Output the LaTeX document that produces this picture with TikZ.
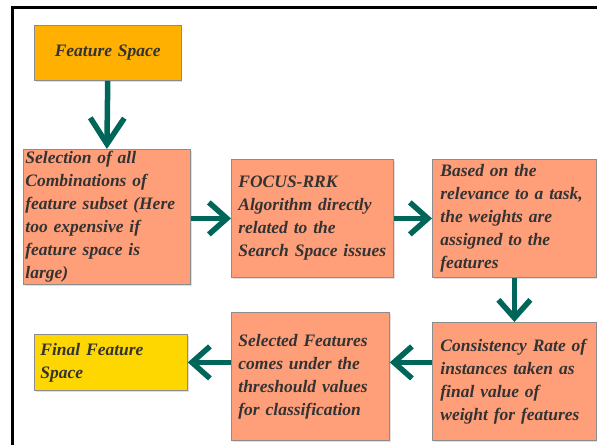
\documentclass[tikz,border=0pt]{standalone}
\usepackage{fontspec}
\setmainfont{Liberation Serif}[BoldItalicFont={Liberation Serif Bold Italic}, BoldFont={Liberation Serif Bold}, ItalicFont={Liberation Serif Italic}]
\usetikzlibrary{arrows.meta,shadows}
\definecolor{salmonbox}{HTML}{FF9F7A}
\definecolor{orangebox}{HTML}{FFB000}
\definecolor{yellowbox}{HTML}{FFD700}
\definecolor{boxline}{HTML}{8C8C8C}
\definecolor{txtcol}{HTML}{333333}
\definecolor{arrowcol}{HTML}{00665A}
\tikzset{
  box/.style={draw=boxline, line width=0.8pt, anchor=north west, align=left,
    font=\rmfamily\fontsize{17.5}{23}\selectfont\bfseries\itshape, text=txtcol,
    inner ysep=0pt, drop shadow={shadow xshift=1.2pt, shadow yshift=-1.2pt, opacity=0.25}},
  conn/.style={draw=arrowcol, line width=5.5pt,
    -{Straight Barb[length=18pt,width=32pt,sharp]}},
}
\begin{document}
\begin{tikzpicture}[x=1pt,y=-1pt]
\useasboundingbox (0,0) rectangle (597,445);
\fill[white] (0,0) rectangle (597,445);
\draw[line width=3pt] (12,445) -- (12,7) -- (597,7);

\node[box, fill=orangebox, align=center, minimum width=144pt, minimum height=55pt, text width=140pt]
  (fs) at (34,25) {Feature Space};
\node[box, fill=salmonbox, minimum width=167pt, minimum height=135pt, text width=163pt, inner xsep=2pt]
  (sel) at (23,149) {Selection of all\\Combinations of\\feature subset (Here\\too expensive if\\feature space is\\large)};
\node[box, fill=salmonbox, minimum width=162pt, minimum height=118pt, text width=154pt, inner xsep=4pt]
  (foc) at (231,159) {\hspace*{3pt}FOCUS-RRK\\\hspace*{3pt}Algorithm directly\\\hspace*{3pt}related to the\\\hspace*{3pt}Search Space issues};
\node[box, fill=salmonbox, minimum width=164pt, minimum height=118pt, text width=156pt, inner xsep=4pt]
  (bas) at (432,159) {\hspace*{4pt}Based on the\\\hspace*{4pt}relevance to a task,\\\hspace*{4pt}the weights are\\\hspace*{4pt}assigned to the\\\hspace*{4pt}features};
\node[box, fill=salmonbox, minimum width=164pt, minimum height=118pt, text width=156pt, inner xsep=4pt]
  (con) at (432,322) {\hspace*{4pt}Consistency Rate of\\\hspace*{4pt}instances taken as\\\hspace*{4pt}final value of\\\hspace*{4pt}weight for features};
\node[box, fill=salmonbox, minimum width=158pt, minimum height=128pt, text width=150pt, inner xsep=4pt]
  (slf) at (231,312) {\hspace*{3pt}Selected Features\\\hspace*{3pt}comes under the\\\hspace*{3pt}threshould values\\\hspace*{3pt}for classification};
\node[box, fill=yellowbox, minimum width=153pt, minimum height=56pt, text width=141pt, inner xsep=6pt]
  (fin) at (34,334) {Final Feature\\Space};

\draw[conn, -{Straight Barb[length=26pt,width=34pt,sharp]}] (fs.south) -- (sel.north);
\draw[conn] (sel.east |- foc.west) -- (foc.west);
\draw[conn] (foc.east) -- (bas.west);
\draw[conn] (bas.south) -- (con.north);
\draw[conn] (con.west |- fin.east) -- (slf.east |- fin.east);
\draw[conn] (slf.west |- fin.east) -- (fin.east);
\end{tikzpicture}
\end{document}
